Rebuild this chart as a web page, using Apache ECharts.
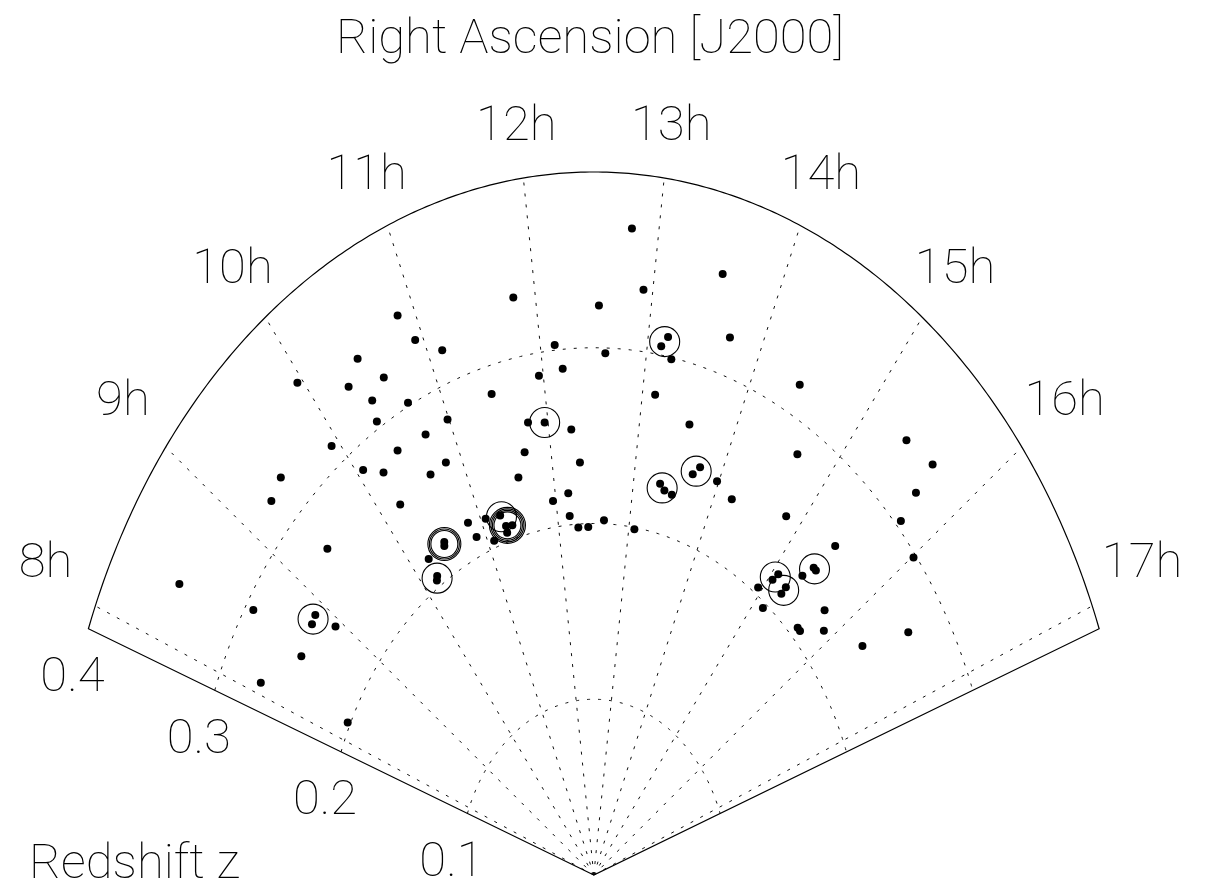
<!DOCTYPE html>
<html>
<head>
<meta charset="utf-8">
<script src="https://cdn.jsdelivr.net/npm/echarts@6/dist/echarts.min.js"></script>
<style>
html,body{margin:0;padding:0;background:#fff;}
#chart{width:1207px;height:890px;}
</style>
</head>
<body>
<div id="chart"></div>
<script>
// ---- text ----
const titleText = 'Right Ascension [J2000]';
const radiusName = 'Redshift z';

// ---- axes / ticks ----
const raTicks = [8, 9, 10, 11, 12, 13, 14, 15, 16, 17];          // hours
const raTickLabels = ['8h', '9h', '10h', '11h', '12h', '13h', '14h', '15h', '16h', '17h'];
const zTicks = [0.1, 0.2, 0.3, 0.4];
const zTickLabels = ['0.1', '0.2', '0.3', '0.4'];
const zGridArcs = [0.1, 0.2, 0.3];
const raRange = [7.8667, 17.1333];   // hours (118 deg .. 257 deg)
const raCenter = 12.5;
const zMax = 0.4;

// ---- galaxies (RA in hours, redshift) ----
const galaxyRA = [
  8.388, 8.557, 8.875, 8.789, 8.929, 8.491, 8.093, 8.195, 9.381, 9.278,
  9.451, 9.931, 9.959, 10.287, 10.447, 10.579, 10.412, 10.691, 10.371, 10.863,
  10.933, 11.125, 10.062, 10.217, 10.430, 10.737, 10.987, 10.635, 10.830, 10.217,
  11.469, 11.814, 12.134, 11.957, 12.195, 12.545, 12.610, 12.793, 12.921, 13.180,
  13.129, 13.239, 13.541, 13.718, 13.130, 14.413, 13.531, 11.785, 11.963, 12.249,
  11.698, 12.333, 11.575, 11.961, 12.168, 12.167, 12.643, 12.279, 12.421, 13.080,
  10.836, 11.062, 10.879, 11.085, 11.250, 11.291, 11.375, 11.283, 10.478, 10.458,
  10.217, 10.213, 10.183, 13.751, 13.689, 13.979, 13.330, 13.397, 13.498, 14.205,
  14.649, 14.830, 15.414, 15.376, 15.639, 15.679, 15.733, 16.013, 16.457, 16.288,
  15.076, 15.050, 15.234, 15.233, 14.945, 15.317, 15.367, 15.403, 15.135, 15.742,
  15.637, 15.684, 15.889
];
const galaxyZ = [
  0.349, 0.294, 0.254, 0.253, 0.238, 0.250, 0.270, 0.202, 0.271, 0.320,
  0.324, 0.312, 0.356, 0.332, 0.342, 0.323, 0.316, 0.302, 0.304, 0.350,
  0.332, 0.319, 0.287, 0.277, 0.282, 0.280, 0.281, 0.258, 0.259, 0.255,
  0.284, 0.334, 0.303, 0.287, 0.289, 0.324, 0.297, 0.369, 0.335, 0.311,
  0.305, 0.299, 0.355, 0.322, 0.277, 0.318, 0.266, 0.262, 0.260, 0.254,
  0.246, 0.235, 0.233, 0.215, 0.218, 0.205, 0.202, 0.198, 0.198, 0.199,
  0.221, 0.218, 0.211, 0.204, 0.216, 0.209, 0.208, 0.205, 0.2195, 0.2175,
  0.2175, 0.206, 0.204, 0.245, 0.2395, 0.242, 0.228, 0.225, 0.224, 0.237,
  0.283, 0.249, 0.259, 0.339, 0.343, 0.323, 0.304, 0.298, 0.271, 0.238,
  0.219, 0.214, 0.217, 0.212, 0.204, 0.230, 0.239, 0.239, 0.197, 0.228,
  0.2065, 0.2065, 0.220
];

// ---- encircled groups (RA in hours, redshift) ----
const groupRA = [8.832, 10.199, 10.469, 11.311, 11.263, 11.963, 13.155, 13.364, 13.719, 15.062, 15.233, 15.381];
const groupZ  = [0.254, 0.205, 0.2185, 0.209, 0.215, 0.260, 0.308, 0.226, 0.242, 0.2165, 0.2146, 0.239];
const multiRingGroups = [2, 3];   // groups drawn with several rings

// ---- projection helpers (wedge: RA -> angle, z -> radius) ----
const DEG = Math.PI / 180;
function proj(ra, z) {
  const t = (ra - raCenter) * 15 * DEG;
  return [z * Math.sin(t), z * Math.cos(t)];
}

const FONT = {
  fontFamily: '"Roboto Thin", Roboto, "DejaVu Sans", sans-serif',
  fontWeight: 100,
  fontSize: 49,
  fill: '#000'
};
const DASH = [3, 8];

const galaxyData = galaxyRA.map((ra, i) => proj(ra, galaxyZ[i]));
const groupData = groupRA.map((ra, i) => proj(ra, groupZ[i]));
const multiData = multiRingGroups.map(i => groupData[i]);

const chart = echarts.init(document.getElementById('chart'), null, {renderer: 'canvas'});

const option = {
  animation: false,
  backgroundColor: '#fff',
  grid: {left: 0.28, top: 31.4, width: 1187.0, height: 843.6},
  xAxis: {type: 'value', min: -0.44, max: 0.44, show: false},
  yAxis: {type: 'value', min: 0, max: 0.48, show: false},
  graphic: [
    {type: 'text', x: 590, y: 39, silent: true,
     style: Object.assign({text: titleText, align: 'center', verticalAlign: 'middle'}, FONT)},
    {type: 'text', x: 29, y: 864, silent: true,
     style: Object.assign({text: radiusName, align: 'left', verticalAlign: 'middle'}, FONT)}
  ],
  series: [
    // dashed redshift arcs
    {
      type: 'custom', silent: true, z: 1,
      data: zGridArcs.map(z => [z, 0]),
      renderItem: (p, api) => {
        const z = api.value(0);
        const pts = [];
        const N = 240;
        for (let i = 0; i <= N; i++) {
          const ra = raRange[0] + (raRange[1] - raRange[0]) * i / N;
          pts.push(api.coord(proj(ra, z)));
        }
        return {type: 'polyline', shape: {points: pts},
                style: {stroke: '#111', lineWidth: 1, lineDash: DASH, fill: null}};
      }
    },
    // dashed RA spokes
    {
      type: 'custom', silent: true, z: 1,
      data: raTicks.map(h => [h, 0]),
      renderItem: (p, api) => {
        const h = api.value(0);
        const a = api.coord(proj(h, 0));
        const b = api.coord(proj(h, zMax));
        return {type: 'line', shape: {x1: a[0], y1: a[1], x2: b[0], y2: b[1]},
                style: {stroke: '#111', lineWidth: 1, lineDash: DASH}};
      }
    },
    // solid wedge outline
    {
      type: 'custom', silent: true, z: 2,
      data: [[0, 0]],
      renderItem: (p, api) => {
        const pts = [api.coord(proj(raRange[0], 0))];
        const N = 300;
        for (let i = 0; i <= N; i++) {
          const ra = raRange[0] + (raRange[1] - raRange[0]) * i / N;
          pts.push(api.coord(proj(ra, zMax)));
        }
        pts.push(api.coord(proj(raRange[1], 0)));
        return {type: 'polygon', shape: {points: pts},
                style: {stroke: '#000', lineWidth: 1.2, fill: null}};
      }
    },
    // RA tick labels
    {
      type: 'custom', silent: true, z: 3,
      data: raTicks.map(h => [h, 0]),
      renderItem: (p, api) => {
        const h = api.value(0);
        const t = (h - raCenter) * 15 * DEG;
        const pt = api.coord([0.44 * Math.sin(t), 0.4084 * Math.cos(t) + 0.0224]);
        return {type: 'text', x: pt[0], y: pt[1] + 2,
                style: Object.assign({text: raTickLabels[p.dataIndex], align: 'center', verticalAlign: 'middle'}, FONT)};
      }
    },
    // redshift tick labels along the left edge
    {
      type: 'custom', silent: true, z: 3,
      data: zTicks.map(z => [z, 0]),
      renderItem: (p, api) => {
        const z = api.value(0);
        const pt = api.coord(proj(raRange[0], z));
        return {type: 'text', x: pt[0] - 16, y: pt[1] + 48,
                style: Object.assign({text: zTickLabels[p.dataIndex], align: 'center', verticalAlign: 'middle'}, FONT)};
      }
    },
    // galaxies
    {
      type: 'scatter', silent: true, z: 4,
      symbol: 'circle', symbolSize: 8,
      itemStyle: {color: '#000', opacity: 1},
      data: galaxyData
    },
    // group circles
    {
      type: 'scatter', silent: true, z: 5,
      symbol: 'circle', symbolSize: 30,
      itemStyle: {color: 'rgba(0,0,0,0)', borderColor: '#000', borderWidth: 1.1, opacity: 1},
      data: groupData
    },
    {
      type: 'scatter', silent: true, z: 5,
      symbol: 'circle', symbolSize: 33,
      itemStyle: {color: 'rgba(0,0,0,0)', borderColor: '#000', borderWidth: 1.1, opacity: 1},
      data: multiData
    },
    {
      type: 'scatter', silent: true, z: 5,
      symbol: 'circle', symbolSize: 27,
      itemStyle: {color: 'rgba(0,0,0,0)', borderColor: '#000', borderWidth: 1.1, opacity: 1},
      data: multiData
    },
    {
      type: 'scatter', silent: true, z: 5,
      symbol: 'circle', symbolSize: 36,
      itemStyle: {color: 'rgba(0,0,0,0)', borderColor: '#000', borderWidth: 1.1, opacity: 1},
      data: [groupData[3]]
    }
  ]
};
chart.setOption(option);
</script>
</body>
</html>
